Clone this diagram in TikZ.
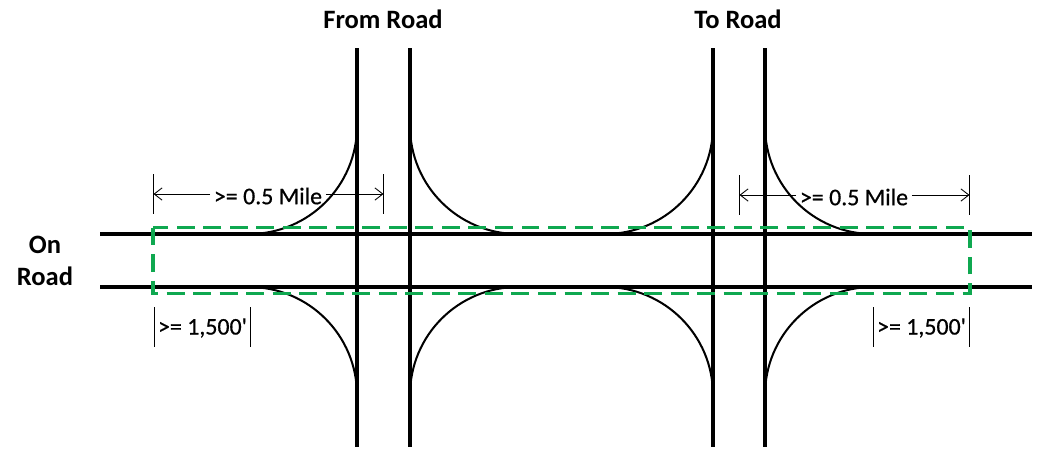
\documentclass[tikz,border=0pt]{standalone}
\usepackage{fontspec}
\setmainfont{Carlito}
\newfontfamily\dimfont[FakeBold=0.6]{Carlito}
\usetikzlibrary{arrows.meta}
\definecolor{zonegreen}{HTML}{0FA850}

\begin{document}
\begin{tikzpicture}[x=0.02cm,y=-0.02cm]
    \tikzstyle{road}=[line width=1.8pt]
    \tikzstyle{crossroad}=[line width=2.4pt]
    \tikzstyle{ramp}=[line width=1.15pt]
    \tikzstyle{zone}=[line width=2pt,zonegreen,dash pattern=on 10.2pt off 4.9pt]
    \tikzstyle{tick}=[line width=0.4pt]
    \tikzstyle{dim}=[line width=0.5pt,-{Straight Barb[length=4.5pt,width=7pt]}]
    \tikzstyle{roadlabel}=[font=\fontsize{15.1}{17}\selectfont\bfseries,inner sep=0pt]
    \tikzstyle{dimlabel}=[font=\dimfont\fontsize{13.6}{15}\selectfont,inner sep=2pt]

    \useasboundingbox (0,0) rectangle (1051,460);

    % on road
    \draw[road] (100,234) -- (1032,234);
    \draw[road] (100,287) -- (1032,287);

    % crossing roads
    \draw[crossroad] (357,48) -- (357,447);
    \draw[crossroad] (410,48) -- (410,447);
    \draw[crossroad] (713,48) -- (713,447);
    \draw[crossroad] (765,48) -- (765,447);

    % ramps
    \draw[ramp] (357,126) arc (0:90:108);
    \draw[ramp] (410,126) arc (180:90:108);
    \draw[ramp] (713,126) arc (0:90:108);
    \draw[ramp] (765,126) arc (180:90:108);
    \draw[ramp] (357,395) arc (0:-90:108);
    \draw[ramp] (410,395) arc (180:270:108);
    \draw[ramp] (713,395) arc (0:-90:108);
    \draw[ramp] (765,395) arc (180:270:108);

    % dashed zone
    \draw[zone] (153,227.5) -- (153,293.5) -- (970,293.5) -- (970,227.5) -- cycle;

    % road names
    \node[roadlabel] (fromroad) at (383,19) {From Road};
    \node[roadlabel] (toroad) at (738,19) {To Road};
    \node[roadlabel] (onroad) at (45,245) {On};
    \node[roadlabel] (onroadb) at (45,276) {Road};

    % left mile dimension
    \node[dimlabel] (milea) at (268,196) {>= 0.5 Mile};
    \coordinate (mileal) at (153.5,194);
    \coordinate (milear) at (383.5,194);
    \draw[tick] (153.5,174) -- (153.5,214);
    \draw[tick] (383.5,174) -- (383.5,214);
    \draw[dim] (milea.west |- mileal) -- (mileal);
    \draw[dim] (milea.east |- milear) -- (milear);

    % right mile dimension
    \node[dimlabel] (mileb) at (854,197) {>= 0.5 Mile};
    \coordinate (milebl) at (739.5,195);
    \coordinate (milebr) at (969.5,195);
    \draw[tick] (739.5,175) -- (739.5,215);
    \draw[tick] (969.5,175) -- (969.5,215);
    \draw[dim] (mileb.west |- milebl) -- (milebl);
    \draw[dim] (mileb.east |- milebr) -- (milebr);

    % 1,500 ft marks
    \node[dimlabel] (feeta) at (202.5,328) {>= 1,500'};
    \node[dimlabel] (feetb) at (921.5,328) {>= 1,500'};
    \draw[tick] (154.5,307) -- (154.5,347);
    \draw[tick] (250.5,307) -- (250.5,347);
    \draw[tick] (873.5,307) -- (873.5,347);
    \draw[tick] (969.5,307) -- (969.5,347);
\end{tikzpicture}
\end{document}
